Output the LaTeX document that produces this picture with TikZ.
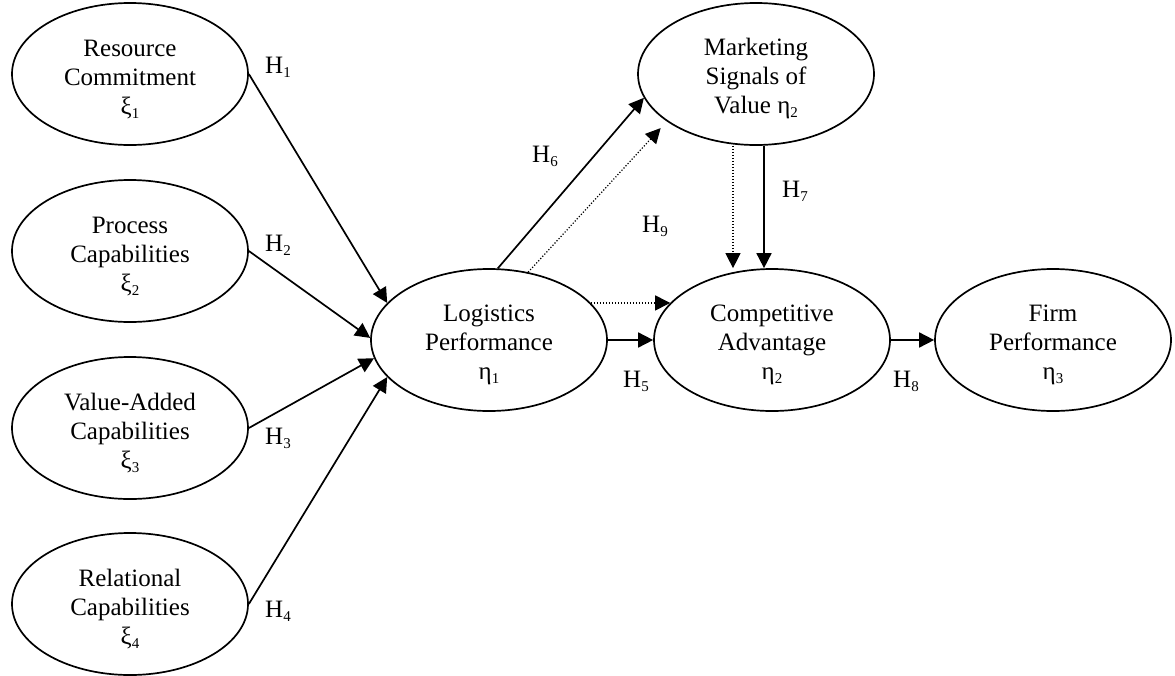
\documentclass[tikz,border=0pt]{standalone}
\usepackage{fontspec}
\setmainfont{Liberation Serif}
\usetikzlibrary{arrows.meta,shapes.geometric}
\newcommand\lsub[1]{\raisebox{-0.35ex}{\fontsize{15}{15}\selectfont #1}}
\newcommand\topstrut{\rule{0pt}{27pt}}
\tikzset{
  construct/.style={draw, ellipse, line width=1.7pt, minimum width=236pt, minimum height=142pt,
    inner sep=0pt, align=center, font=\fontsize{25}{29}\selectfont},
  hlabel/.style={inner sep=0pt, font=\fontsize{25}{29}\selectfont},
  path/.style={line width=1.7pt, -{Triangle[length=15pt,width=15pt]}},
  dotpath/.style={line width=1.2pt, dash pattern=on 1.2pt off 1.8pt, -{Triangle[length=15pt,width=15pt]}}
}
\begin{document}
\begin{tikzpicture}[x=1pt,y=-1pt]
\useasboundingbox (0,0) rectangle (1175,675);
\node[construct] (R) at (130,74) {\topstrut Resource\\Commitment\\ξ\lsub{1}};
\node[construct] (P) at (130,251) {\topstrut Process\\Capabilities\\ξ\lsub{2}};
\node[construct] (V) at (130,428) {\topstrut Value-Added\\Capabilities\\ξ\lsub{3}};
\node[construct] (Rel) at (130,604) {\topstrut Relational\\Capabilities\\ξ\lsub{4}};
\node[construct] (L) at (489,340) {\topstrut Logistics\\Performance\\η\lsub{1}};
\node[construct] (M) at (756,74) {\topstrut Marketing\\Signals of\\Value η\lsub{2}};
\node[construct] (C) at (772,340) {\topstrut Competitive\\Advantage\\η\lsub{2}};
\node[construct] (F) at (1053,340) {\topstrut Firm\\Performance\\η\lsub{3}};

\draw[path] (R.east) -- (L.160);
\draw[path] (P.east) -- (L.179);
\draw[path] (V.east) -- (L.189);
\draw[path] (Rel.east) -- (L.200);
\draw[path] (L.83) -- (M.192);
\draw[dotpath, shorten >=9pt] (L.60) -- (M.208);
\draw[dotpath] ([xshift=-23pt]M.south) -- ([xshift=-39pt]C.north);
\draw[path] ([xshift=8pt]M.south) -- ([xshift=-8pt]C.north);
\draw[dotpath] (L.20) -- (C.160);
\draw[path] (L.east) -- (C.west);
\draw[path] (C.east) -- (F.west);

\node[hlabel] (h1) at (278,67) {H\lsub{1}};
\node[hlabel] (h2) at (278,245) {H\lsub{2}};
\node[hlabel] (h3) at (278,438) {H\lsub{3}};
\node[hlabel] (h4) at (278,611) {H\lsub{4}};
\node[hlabel] (h5) at (636,381) {H\lsub{5}};
\node[hlabel] (h6) at (545,156) {H\lsub{6}};
\node[hlabel] (h7) at (795,191) {H\lsub{7}};
\node[hlabel] (h8) at (906,381) {H\lsub{8}};
\node[hlabel] (h9) at (655,226) {H\lsub{9}};
\end{tikzpicture}
\end{document}
